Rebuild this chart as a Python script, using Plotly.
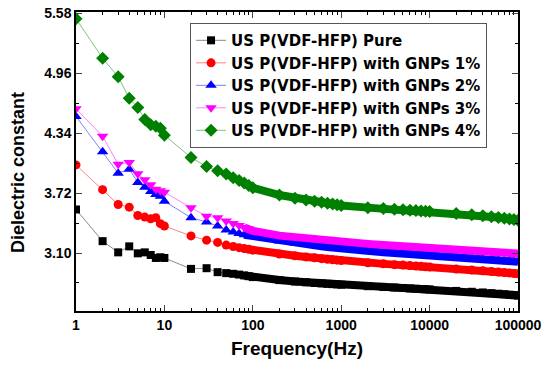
import plotly.graph_objects as go

freqs = [1, 2, 3, 4, 5, 6, 7, 8, 9, 10,
         20, 30, 40, 50, 60, 70, 80, 90, 100,
         200, 300, 400, 500, 600, 700, 800, 900, 1000,
         2000, 3000, 4000, 5000, 6000, 7000, 8000, 9000, 10000,
         20000, 30000, 40000, 50000, 60000, 70000, 80000, 90000, 100000]

pure = [3.551, 3.223, 3.107, 3.169, 3.097, 3.107, 3.080, 3.049, 3.056, 3.049,
        2.936, 2.943, 2.902, 2.892, 2.885, 2.877, 2.868, 2.860, 2.851,
        2.820, 2.806, 2.797, 2.790, 2.785, 2.781, 2.778, 2.775, 2.772,
        2.757, 2.749, 2.743, 2.738, 2.734, 2.731, 2.728, 2.726, 2.724,
        2.708, 2.699, 2.692, 2.685, 2.679, 2.674, 2.669, 2.665, 2.660]

gnp1 = [4.012, 3.756, 3.602, 3.575, 3.489, 3.472, 3.455, 3.466, 3.404, 3.380,
        3.277, 3.233, 3.210, 3.182, 3.168, 3.156, 3.146, 3.138, 3.130,
        3.090, 3.072, 3.060, 3.050, 3.042, 3.036, 3.031, 3.026, 3.022,
        3.000, 2.988, 2.980, 2.975, 2.970, 2.966, 2.962, 2.958, 2.955,
        2.935, 2.924, 2.916, 2.910, 2.904, 2.899, 2.894, 2.889, 2.885]

gnp2 = [4.514, 4.148, 3.927, 3.968, 3.831, 3.780, 3.738, 3.705, 3.687, 3.636,
        3.466, 3.421, 3.380, 3.339, 3.318, 3.302, 3.290, 3.282, 3.275,
        3.225, 3.204, 3.190, 3.180, 3.170, 3.162, 3.155, 3.150, 3.145,
        3.120, 3.107, 3.100, 3.095, 3.090, 3.086, 3.083, 3.080, 3.078,
        3.060, 3.049, 3.041, 3.035, 3.028, 3.023, 3.018, 3.014, 3.010]

gnp3 = [4.593, 4.309, 4.019, 4.036, 3.920, 3.858, 3.807, 3.760, 3.745, 3.730,
        3.568, 3.482, 3.466, 3.431, 3.405, 3.385, 3.365, 3.348, 3.330,
        3.280, 3.262, 3.250, 3.240, 3.233, 3.227, 3.222, 3.218, 3.215,
        3.195, 3.183, 3.176, 3.170, 3.166, 3.162, 3.159, 3.157, 3.155,
        3.140, 3.130, 3.122, 3.115, 3.110, 3.106, 3.102, 3.098, 3.095]

gnp4 = [5.526, 5.116, 4.924, 4.702, 4.606, 4.483, 4.429, 4.412, 4.391, 4.320,
        4.089, 3.995, 3.951, 3.917, 3.880, 3.850, 3.825, 3.800, 3.775,
        3.700, 3.668, 3.650, 3.636, 3.625, 3.615, 3.607, 3.600, 3.593,
        3.570, 3.560, 3.553, 3.548, 3.543, 3.539, 3.535, 3.532, 3.530,
        3.510, 3.497, 3.486, 3.476, 3.467, 3.459, 3.452, 3.446, 3.440]

names = ["US P(VDF-HFP) Pure",
         "US P(VDF-HFP) with GNPs 1%",
         "US P(VDF-HFP) with GNPs 2%",
         "US P(VDF-HFP) with GNPs 3%",
         "US P(VDF-HFP) with GNPs 4%"]

y_title = "Dielectric constant"
x_title = "Frequency(Hz)"
y_ticks = [3.10, 3.72, 4.34, 4.96, 5.58]
x_ticks = [1, 10, 100, 1000, 10000, 100000]
x_labels = ["1", "10", "100", "1000", "10000", "100000"]

series = [pure, gnp1, gnp2, gnp3, gnp4]
colors = ["#000000", "#ff0000", "#0000ff", "#ff00ff", "#008000"]
linecolors = ["#8a8a8a", "#ff8080", "#8080ff", "#ff80ff", "#80c080"]
symbols = ["square", "circle", "triangle-up", "triangle-down", "diamond"]
sizes = [8, 9, 10, 10, 10]

fig = go.Figure()
for vals, nm, c, lc, sym, sz in zip(series, names, colors, linecolors, symbols, sizes):
    fig.add_trace(go.Scatter(x=freqs, y=vals, mode="lines+markers", name=nm,
                             line=dict(color=lc, width=1),
                             marker=dict(symbol=sym, size=sz, color=c, line=dict(width=0))))
band_start = freqs.index(80)
for vals, c in zip(series, colors):
    fig.add_trace(go.Scatter(x=freqs[band_start:], y=vals[band_start:], mode="lines",
                             line=dict(color=c, width=8), showlegend=False,
                             hoverinfo="skip"))

minor_x = [m * 10 ** e for e in range(0, 5) for m in range(2, 10)]

font_family = "Liberation Sans, Arial, sans-serif"
fig.update_layout(
    width=545, height=368,
    margin=dict(l=76, r=27, t=12, b=57),
    paper_bgcolor="white", plot_bgcolor="white",
    font=dict(family=font_family, color="black"),
    showlegend=True,
    legend=dict(x=0.258, y=0.963, xanchor="left", yanchor="top",
                bordercolor="#555555", borderwidth=1, bgcolor="white",
                font=dict(size=15, family="DejaVu Sans, sans-serif", weight="bold"),
                tracegroupgap=0, itemwidth=30),
    xaxis=dict(type="log", range=[0, 5], automargin=False,
               tickvals=x_ticks, ticktext=x_labels,
               ticks="inside", ticklen=6, tickwidth=1, mirror="ticks",
               showline=True, linecolor="black", linewidth=1.5,
               showgrid=False, zeroline=False,
               tickfont=dict(size=14, weight="bold"),
               minor=dict(tickvals=minor_x, ticks="inside", ticklen=3, tickcolor="black", showgrid=False),
               title=dict(text=x_title, font=dict(size=19, weight="bold"), standoff=10)),
    yaxis=dict(range=[2.50, 5.595], automargin=False,
               tickvals=y_ticks, tickformat=".2f",
               ticks="inside", ticklen=6, tickwidth=1, mirror="ticks",
               showline=True, linecolor="black", linewidth=1.5,
               showgrid=False, zeroline=False,
               tickfont=dict(size=14, weight="bold"),
               minor=dict(tick0=2.79, dtick=0.62, ticks="inside", ticklen=3, tickcolor="black", showgrid=False)),
    annotations=[dict(text=y_title, textangle=-90, xref="paper", yref="paper",
                      x=-0.131, y=0.4615, xanchor="center", yanchor="middle",
                      showarrow=False, font=dict(size=18, weight="bold"))],
)

fig.write_html("out.html", config={"displayModeBar": False},
               post_script="document.body.style.margin='0';document.body.style.overflow='hidden';")
